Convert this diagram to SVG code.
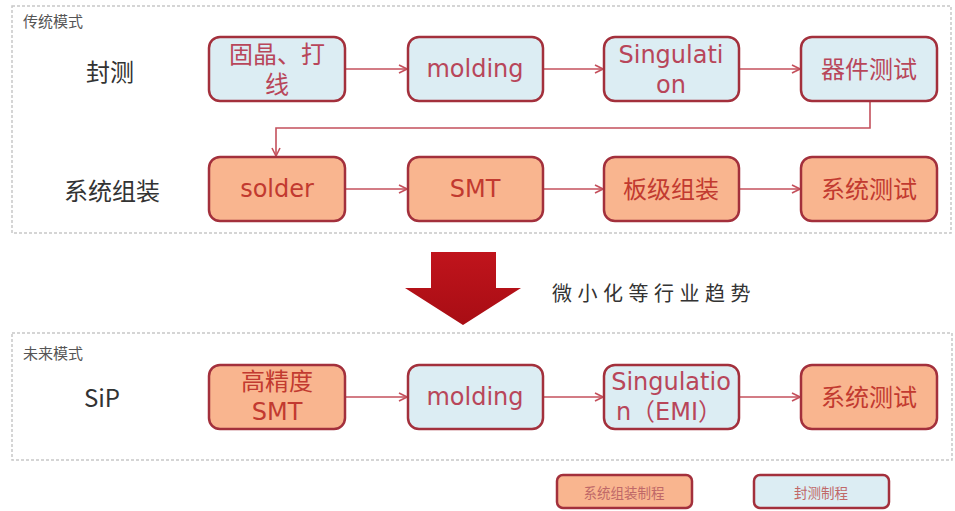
<svg xmlns="http://www.w3.org/2000/svg" width="955" height="511" viewBox="0 0 955 511">
<defs>
<style>
.frame{fill:#fff;stroke:#c8c8c8;stroke-width:1.5;stroke-dasharray:3 2}
.box{stroke:#a3303c;stroke-width:2.5}
.b{fill:#dcedf3}
.o{fill:#f9b58f}
.t{font-family:"DejaVu Sans","Noto Sans CJK SC",sans-serif;font-size:24px;text-anchor:middle;dominant-baseline:central}
.tb{fill:#b8465a}
.to{fill:#c23a30}
.lbl{font-family:"Noto Sans CJK SC","DejaVu Sans",sans-serif;font-size:24px;fill:#333;text-anchor:middle;dominant-baseline:central}
.ttl{font-family:"Noto Sans CJK SC",serif;font-size:15px;fill:#555}
.cn{fill:none;stroke:#c4505c;stroke-width:1.6}
.lg{font-family:"Noto Sans CJK SC",sans-serif;font-size:13.5px;text-anchor:middle;dominant-baseline:central;fill:#c06868}
</style>
<marker id="ah" viewBox="0 0 10 10" refX="9" refY="5" markerWidth="10" markerHeight="10" markerUnits="userSpaceOnUse" orient="auto">
<path d="M1,1 L9,5 L1,9" fill="none" stroke="#c4505c" stroke-width="1.6"/>
</marker>
<linearGradient id="ag" x1="0" y1="0" x2="0" y2="1">
<stop offset="0" stop-color="#c0141c"/>
<stop offset="1" stop-color="#a80d14"/>
</linearGradient>
</defs>
<rect width="955" height="511" fill="#fff"/>

<g id="frame-traditional">
<rect class="frame" x="12" y="6" width="939" height="227"/>
<text class="ttl" x="23" y="27">传统模式</text>
</g>
<g id="frame-future">
<rect class="frame" x="12" y="333" width="940" height="127"/>
<text class="ttl" x="23" y="359">未来模式</text>
</g>

<g id="row-labels">
<text class="lbl" x="110" y="70">封测</text>
<text class="lbl" x="112" y="189">系统组装</text>
<text class="lbl" x="102" y="396" font-size="26">SiP</text>
</g>

<g id="connectors">
<line class="cn" x1="345" y1="69" x2="407" y2="69" marker-end="url(#ah)"/>
<line class="cn" x1="543" y1="69" x2="603" y2="69" marker-end="url(#ah)"/>
<line class="cn" x1="739" y1="69" x2="800" y2="69" marker-end="url(#ah)"/>
<polyline class="cn" points="870,101 870,128 276,128 276,156" marker-end="url(#ah)"/>
<line class="cn" x1="345" y1="189" x2="407" y2="189" marker-end="url(#ah)"/>
<line class="cn" x1="543" y1="189" x2="603" y2="189" marker-end="url(#ah)"/>
<line class="cn" x1="739" y1="189" x2="800" y2="189" marker-end="url(#ah)"/>
<line class="cn" x1="345" y1="397" x2="407" y2="397" marker-end="url(#ah)"/>
<line class="cn" x1="543" y1="397" x2="603" y2="397" marker-end="url(#ah)"/>
<line class="cn" x1="739" y1="397" x2="800" y2="397" marker-end="url(#ah)"/>
</g>

<g id="n-gujing">
<rect class="box b" x="209" y="37" width="136" height="64" rx="11"/>
<text class="t tb" x="277" y="55">固晶、打</text>
<text class="t tb" x="277" y="85">线</text>
</g>
<g id="n-molding1">
<rect class="box b" x="408" y="37" width="135" height="64" rx="11"/>
<text class="t tb" x="475" y="69">molding</text>
</g>
<g id="n-singulation1">
<rect class="box b" x="604" y="37" width="135" height="64" rx="11"/>
<text class="t tb" x="671" y="55">Singulati</text>
<text class="t tb" x="671" y="85">on</text>
</g>
<g id="n-qijian">
<rect class="box b" x="801" y="37" width="136" height="64" rx="11"/>
<text class="t tb" x="869" y="70">器件测试</text>
</g>

<g id="n-solder">
<rect class="box o" x="209" y="157" width="136" height="64" rx="11"/>
<text class="t to" x="277" y="189">solder</text>
</g>
<g id="n-smt">
<rect class="box o" x="408" y="157" width="135" height="64" rx="11"/>
<text class="t to" x="475" y="189">SMT</text>
</g>
<g id="n-banji">
<rect class="box o" x="604" y="157" width="135" height="64" rx="11"/>
<text class="t to" x="671" y="190">板级组装</text>
</g>
<g id="n-xitong1">
<rect class="box o" x="801" y="157" width="136" height="64" rx="11"/>
<text class="t to" x="869" y="190">系统测试</text>
</g>

<g id="trend-arrow">
<polygon points="431,252 496,252 496,288 521,288 463,325 405,288 431,288" fill="url(#ag)"/>
<text x="552" y="292" font-family="Noto Sans CJK SC,sans-serif" font-size="20" letter-spacing="5.5" fill="#333" dominant-baseline="central">微小化等行业趋势</text>
</g>

<g id="n-gaojingdu">
<rect class="box o" x="209" y="365" width="136" height="64" rx="11"/>
<text class="t to" x="277" y="382">高精度</text>
<text class="t to" x="277" y="412">SMT</text>
</g>
<g id="n-molding2">
<rect class="box b" x="408" y="365" width="135" height="64" rx="11"/>
<text class="t tb" x="475" y="397">molding</text>
</g>
<g id="n-singulation2">
<rect class="box b" x="604" y="365" width="135" height="64" rx="11"/>
<text class="t tb" x="671" y="382" font-size="23">Singulatio</text>
<text class="t tb" x="669" y="412" font-size="23">n（EMI）</text>
</g>
<g id="n-xitong2">
<rect class="box o" x="801" y="365" width="136" height="64" rx="11"/>
<text class="t to" x="869" y="398">系统测试</text>
</g>

<g id="legend-assembly">
<rect class="box o" x="557" y="475" width="135" height="33" rx="6"/>
<text class="lg" x="624" y="492">系统组装制程</text>
</g>
<g id="legend-package">
<rect class="box b" x="754" y="475" width="135" height="33" rx="6"/>
<text class="lg" x="821" y="492">封测制程</text>
</g>
</svg>
